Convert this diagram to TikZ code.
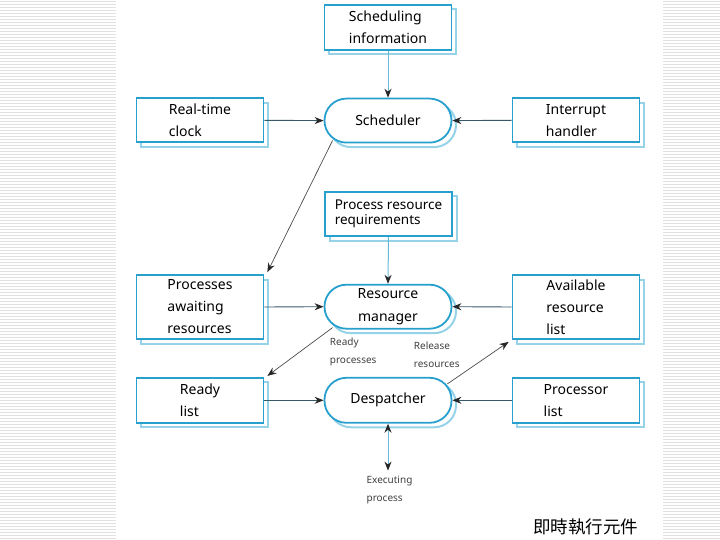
\documentclass[tikz,border=0pt]{standalone}
\usepackage{fontspec}
\setmainfont{Noto Sans}
\newfontfamily\cjk{Noto Sans CJK TC}
\usetikzlibrary{arrows.meta,shadows,calc}
\definecolor{bx}{RGB}{40,160,205}
\definecolor{sh}{RGB}{150,210,232}
\definecolor{ln}{RGB}{55,90,105}
\definecolor{lnv}{RGB}{100,185,215}
\definecolor{stripe}{RGB}{225,225,225}
\begin{document}
\begin{tikzpicture}[x=1pt,y=-1pt,
  shad/.style={general shadow={shadow xshift=4.5pt, shadow yshift=-4.5pt, draw=sh, fill=white, line width=2pt}},
  box/.style={shad, draw=bx, line width=1.8pt, fill=white, minimum width=127pt, minimum height=44pt,
    align=left, inner sep=0pt, font=\fontsize{14}{22}\selectfont},
  stad/.style={shad, draw=bx, line width=1.8pt, fill=white, minimum width=127pt, minimum height=44pt,
    rounded corners=21.9pt, align=center, inner sep=0pt, font=\fontsize{14}{22.5}\selectfont},
  lbl/.style={align=left, inner sep=0pt, text=black!75, font=\fontsize{10}{18}\selectfont},
  arr/.style={draw=ln, line width=0.9pt, -{Stealth[length=9pt,width=7pt,color=black!85]}},
  varr/.style={draw=lnv, line width=1pt, -{Stealth[length=9pt,width=7pt,color=black!85]}},
  darr/.style={draw=black!70, line width=0.7pt, -{Stealth[length=9pt,width=7pt,color=black!85]}}]
\useasboundingbox (0,0) rectangle (720,540);
\fill[white] (0,0) rectangle (720,540);
\foreach \y in {1.5,4.5,...,540} {
  \draw[stripe, line width=1.1pt] (0,\y) -- (116,\y);
  \draw[stripe, line width=1.1pt] (663,\y) -- (720,\y);
}
% nodes
\node[box, minimum height=45pt, font=\fontsize{14}{22.8}\selectfont] (info) at (388,27.2) {Scheduling\\information};
\node[stad] (sched) at (388,120.6) {Scheduler};
\node[box] (rtc) at (200,120.3) {Real-time\\clock};
\node[box] (intr) at (576,120.3) {Interrupt\\handler};
\node[box, font=\fontsize{13.5}{14.5}\selectfont] (prr) at (388.5,214) {Process resource\\requirements};
\node[box, minimum height=64pt] (paw) at (200,307) {Processes\\awaiting\\resources};
\node[stad] (rm) at (388,306.7) {Resource\\manager};
\node[box, minimum height=64pt] (arl) at (576,307) {Available\\resource\\list};
\node[box, minimum height=45pt] (rl) at (200,400.3) {Ready\\list};
\node[stad, minimum height=45pt] (desp) at (388,400.3) {Despatcher};
\node[box, minimum height=45pt] (pl) at (576,400.3) {Processor\\list};
\node[lbl, anchor=west] (rp) at (329.7,352) {Ready\\processes};
\node[lbl, anchor=west] (rr) at (413.7,355) {Release\\resources};
\node[lbl, anchor=north west] (exec) at (366.4,476) {Executing\\process};
\node[anchor=west, inner sep=0pt, font=\cjk\fontsize{17.5}{18}\selectfont] (cn) at (533,527) {即時執行元件};
% connectors
\draw[varr] (info.south) -- (sched.north);
\draw[arr] (rtc.east) -- (sched.west);
\draw[arr] (intr.west) -- (sched.east);
\draw[darr] ($(sched.south west)+(9,-3)$) -- ($(paw.north east)+(3,-2)$);
\draw[varr] (prr.south) -- (rm.north);
\draw[arr] (paw.east) -- (rm.west);
\draw[arr] (arl.west) -- (rm.east);
\draw[darr] ($(rm.south west)+(9,-2)$) -- ($(rl.north east)+(3,-1)$);
\draw[darr] ($(desp.north east)+(-5,7)$) -- ($(arl.south west)+(-3,2)$);
\draw[arr] (rl.east) -- (desp.west);
\draw[arr] (pl.west) -- (desp.east);
\draw[varr, {Stealth[length=9pt,width=7pt,color=black!85]}-{Stealth[length=9pt,width=7pt,color=black!85]}] (desp.south) -- (desp.south |- 0,470.6) coordinate (ex);
\end{tikzpicture}
\end{document}
